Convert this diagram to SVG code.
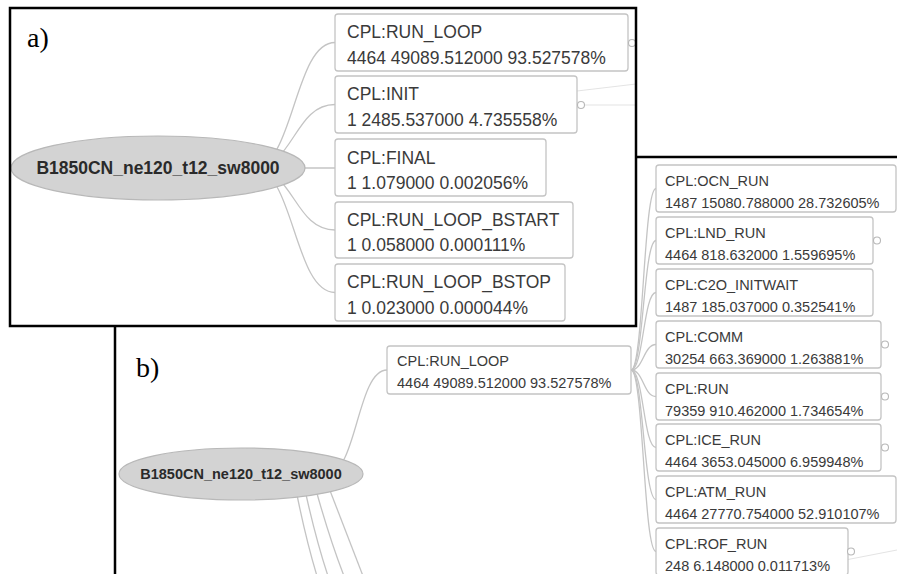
<svg xmlns="http://www.w3.org/2000/svg" width="897" height="574" viewBox="0 0 897 574">
<style>
.box{fill:#fff;stroke:#c4c4c4;stroke-width:1.3}
.la{font-family:"Liberation Sans",Arial,sans-serif;font-size:17.5px;fill:#3a3a3a}
.lb{font-family:"Liberation Sans",Arial,sans-serif;font-size:14.5px;fill:#3a3a3a}
.root{fill:#d3d3d3;stroke:#b8b8b8;stroke-width:1.2}
.rt{font-family:"Liberation Sans",Arial,sans-serif;font-weight:bold;fill:#2a2a2a;text-anchor:middle}
.link{fill:none;stroke:#c4c4c4;stroke-width:1.3}
.faint{fill:none;stroke:#e4e4e4;stroke-width:1.2}
.knob{fill:#fff;stroke:#b8b8b8;stroke-width:1.1}
.frame{fill:none;stroke:#000;stroke-width:2.5}
.tag{font-family:"Liberation Serif","Times New Roman",serif;font-size:28px;fill:#000}
</style>
<rect width="897" height="574" fill="#fff"/>

<!-- Panel b -->
<g id="panel-b">
<path class="frame" d="M115,576 V157 H899"/>
<text class="tag" x="136" y="377">b)</text>
<g id="links-b">
<path class="link" d="M327,474 C357,474 357,370 387,370"/>
<path class="link" d="M296,490 Q306,540 317,576"/>
<path class="link" d="M305,490 Q316,540 328,576"/>
<path class="link" d="M316,490 Q330,540 344,576"/>
<path class="link" d="M329,488 Q347,535 363,576"/>
<path class="link" d="M631,370 C643.5,370 643.5,188.5 656,188.5"/>
<path class="link" d="M631,370 C643.5,370 643.5,240.5 656,240.5"/>
<path class="link" d="M631,370 C643.5,370 643.5,292.5 656,292.5"/>
<path class="link" d="M631,370 C643.5,370 643.5,344.5 656,344.5"/>
<path class="link" d="M631,370 C643.5,370 643.5,396.5 656,396.5"/>
<path class="link" d="M631,370 C643.5,370 643.5,447.5 656,447.5"/>
<path class="link" d="M631,370 C643.5,370 643.5,499.5 656,499.5"/>
<path class="link" d="M631,370 C643.5,370 643.5,551.5 656,551.5"/>
<path class="faint" d="M830,563 L897,550"/>
</g>
<g id="b-root">
<ellipse class="root" cx="241" cy="474" rx="122" ry="26"/>
<text class="rt" x="241" y="479" font-size="14.5">B1850CN_ne120_t12_sw8000</text>
</g>
<g id="b-run-loop">
<rect class="box" x="387" y="346" width="244" height="48" rx="3"/>
<text class="lb" x="397" y="366">CPL:RUN_LOOP</text>
<text class="lb" x="397" y="388">4464 49089.512000 93.527578%</text>
</g>
<g id="b-ocn">
<rect class="box" x="656" y="165" width="240" height="47" rx="3"/>
<text class="lb" x="665" y="186">CPL:OCN_RUN</text>
<text class="lb" x="665" y="208">1487 15080.788000 28.732605%</text>
</g>
<g id="b-lnd">
<rect class="box" x="656" y="217" width="217" height="47" rx="3"/>
<circle class="knob" cx="877" cy="240.5" r="3.5"/>
<text class="lb" x="665" y="238">CPL:LND_RUN</text>
<text class="lb" x="665" y="260">4464 818.632000 1.559695%</text>
</g>
<g id="b-c2o">
<rect class="box" x="656" y="269" width="217" height="47" rx="3"/>
<text class="lb" x="665" y="290">CPL:C2O_INITWAIT</text>
<text class="lb" x="665" y="312">1487 185.037000 0.352541%</text>
</g>
<g id="b-comm">
<rect class="box" x="656" y="321" width="225" height="47" rx="3"/>
<circle class="knob" cx="885" cy="344.5" r="3.5"/>
<text class="lb" x="665" y="342">CPL:COMM</text>
<text class="lb" x="665" y="364">30254 663.369000 1.263881%</text>
</g>
<g id="b-run">
<rect class="box" x="656" y="373" width="225" height="47" rx="3"/>
<circle class="knob" cx="885" cy="396.5" r="3.5"/>
<text class="lb" x="665" y="394">CPL:RUN</text>
<text class="lb" x="665" y="416">79359 910.462000 1.734654%</text>
</g>
<g id="b-ice">
<rect class="box" x="656" y="424" width="225" height="47" rx="3"/>
<circle class="knob" cx="885" cy="447.5" r="3.5"/>
<text class="lb" x="665" y="445">CPL:ICE_RUN</text>
<text class="lb" x="665" y="467">4464 3653.045000 6.959948%</text>
</g>
<g id="b-atm">
<rect class="box" x="656" y="476" width="240" height="47" rx="3"/>
<text class="lb" x="665" y="497">CPL:ATM_RUN</text>
<text class="lb" x="665" y="519">4464 27770.754000 52.910107%</text>
</g>
<g id="b-rof">
<rect class="box" x="656" y="528" width="192" height="47" rx="3"/>
<circle class="knob" cx="851" cy="551.5" r="3.5"/>
<text class="lb" x="665" y="549">CPL:ROF_RUN</text>
<text class="lb" x="665" y="571">248 6.148000 0.011713%</text>
</g>
</g>

<!-- Panel a -->
<g id="panel-a">
<rect x="10" y="8" width="626" height="318" fill="#fff"/>
<text class="tag" x="27" y="47">a)</text>
<g id="links-a">
<path class="link" d="M253,168 C294,168 294,42.5 335,42.5"/>
<path class="link" d="M253,168 C294,168 294,104.5 335,104.5"/>
<path class="link" d="M253,168 L335,168"/>
<path class="link" d="M253,168 C294,168 294,230 335,230"/>
<path class="link" d="M253,168 C294,168 294,292.5 335,292.5"/>
<path class="faint" d="M577,91 L636,84"/>
<path class="faint" d="M585,105 L636,105"/>
</g>
<g id="a-root">
<ellipse class="root" cx="158" cy="168" rx="147" ry="32"/>
<text class="rt" x="158" y="174" font-size="17.5">B1850CN_ne120_t12_sw8000</text>
</g>
<g id="a-run-loop">
<rect class="box" x="335" y="14" width="293" height="57" rx="3"/>
<circle class="knob" cx="632" cy="43" r="3.5"/>
<text class="la" x="347" y="38">CPL:RUN_LOOP</text>
<text class="la" x="347" y="64">4464 49089.512000 93.527578%</text>
</g>
<g id="a-init">
<rect class="box" x="335" y="76" width="242" height="57" rx="3"/>
<circle class="knob" cx="581" cy="105" r="3.5"/>
<text class="la" x="347" y="100">CPL:INIT</text>
<text class="la" x="347" y="126">1 2485.537000 4.735558%</text>
</g>
<g id="a-final">
<rect class="box" x="335" y="139" width="211" height="57" rx="3"/>
<text class="la" x="347" y="164">CPL:FINAL</text>
<text class="la" x="347" y="189">1 1.079000 0.002056%</text>
</g>
<g id="a-bstart">
<rect class="box" x="335" y="202" width="238" height="56" rx="3"/>
<text class="la" x="347" y="226">CPL:RUN_LOOP_BSTART</text>
<text class="la" x="347" y="251">1 0.058000 0.000111%</text>
</g>
<g id="a-bstop">
<rect class="box" x="335" y="264" width="230" height="57" rx="3"/>
<text class="la" x="347" y="288">CPL:RUN_LOOP_BSTOP</text>
<text class="la" x="347" y="314">1 0.023000 0.000044%</text>
</g>
<rect class="frame" x="10" y="8" width="626" height="318"/>
</g>
</svg>
